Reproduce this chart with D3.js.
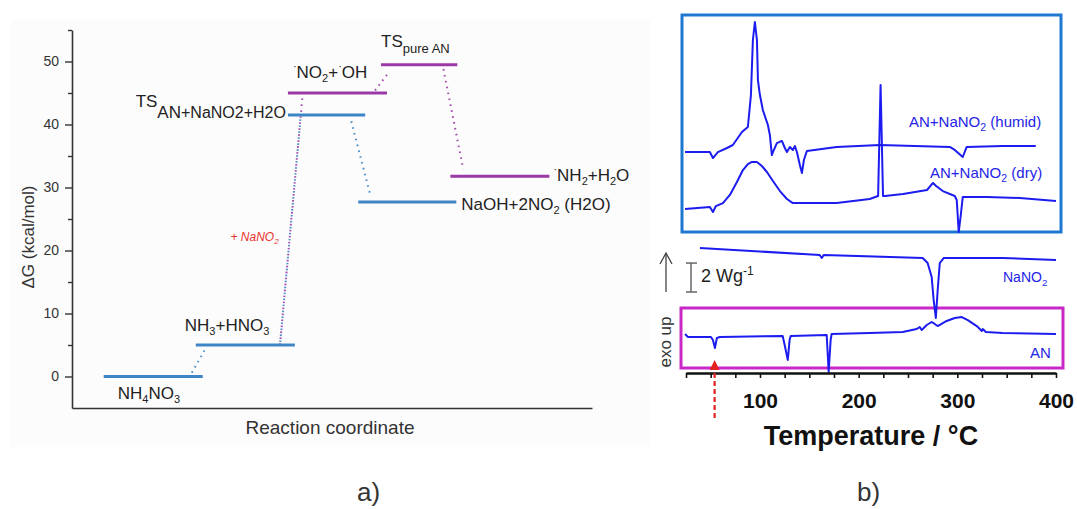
<!DOCTYPE html>
<html><head><meta charset="utf-8">
<script src="https://cdn.jsdelivr.net/npm/d3@7"></script>
<style>
html,body{margin:0;padding:0;background:#fff;}
svg{display:block;font-family:"Liberation Sans",Arial,sans-serif;}
</style></head>
<body><svg id="c" width="1077" height="509"></svg>
<script>
// ---------- Panel a data ----------
const levelNames = ["NH4NO3","NH3+HNO3","TS AN+NaNO2+H2O","NO2+OH","TS pure AN","NH2+H2O","NaOH+2NO2 (H2O)"];
const levelG     = [0, 5, 41.5, 45.0, 49.5, 31.8, 27.7];
const levelStart = [0.32, 1.25, 2.18, 2.18, 3.12, 3.82, 2.89];
const levelEnd   = [1.32, 2.25, 2.96, 3.18, 3.89, 4.82, 3.88];
const levelPath  = ["common","common","nano2","pure","pure","pure","nano2"];
const connX1 = [1.21, 2.10, 2.10, 3.06, 3.75, 2.82];
const connG1 = [0.6, 5.0, 5.0, 45.4, 48.8, 40.5];
const connX2 = [1.34, 2.33, 2.31, 3.20, 3.95, 3.01];
const connG2 = [4.2, 45.0, 41.5, 48.3, 32.9, 28.9];
const connPath = ["common","pure","nano2","pure","pure","nano2"];
const yTicksA = [0, 10, 20, 30, 40, 50];
const yMinorA = [5, 15, 25, 35, 45, 55];

// ---------- Panel b data (T in °C, stacked heat flow in W/g) ----------
const humidT = [24,49.2,52.3,57.3,66.5,72.5,81.7,87.7,90.8,92.8,94.8,96.9,97.9,99.9,102.9,108,110,112,113.1,117.1,122.2,125.2,127.3,130.3,133.3,135.4,137.4,140.4,142.5,144.5,147.5,177.7,221.3,292.3,297.4,305.5,309.5,346,379.5];
const humidV = [14.73,14.73,14.33,14.73,15.0,15.2,16.07,16.4,18.53,22.2,23.4,22.2,19.53,18.53,17.53,16.53,15.87,14.53,14.73,15.33,15.47,15.0,14.73,15.07,14.87,15.13,14.73,13.87,13.33,14.2,14.8,15.07,15.2,15.07,14.87,14.4,15.07,15.13,15.13];
const dryT = [24,49.2,52.3,55.3,62.4,69.5,76.6,82.7,87.7,91.8,96.9,101.9,107,113.1,120.2,127.3,133.3,143.5,177.7,211.2,219.7,222.2,224.7,226.7,245,269.3,273.4,275.4,278.5,285.3,297.4,299.4,301.4,303.5,305.5,329.8,363.3,400];
const dryV = [10.93,11.07,10.73,11.13,11.33,11.87,12.73,13.53,13.93,14.07,14.07,13.8,13.4,12.8,12.13,11.6,11.33,11.33,11.33,11.6,11.8,19.2,11.8,11.8,11.93,12.2,12.53,12.67,12.47,12.13,11.8,11.53,9.4,10.53,11.73,11.73,11.67,11.47];
const nano2T = [39.1,160.5,162.6,164.6,264.9,269.9,274,276,278.2,280.1,282.2,286.3,346,400];
const nano2V = [8.33,7.87,7.67,7.87,7.67,7.33,6.4,4.87,3.67,5.53,7.33,7.67,7.67,7.53];
const anT = [24,27,50.3,52.3,54.3,56.3,59.3,123,125,128.2,130,131.1,167.6,169.6,171.6,172.6,211.2,244.6,258.8,261.9,263.9,269,274,277.1,280.1,289.2,297.4,304.5,310.6,319.7,324.8,325.8,328.9,346,400];
const anV = [2.6,2.4,2.4,2.2,1.67,2.33,2.4,2.47,1.87,0.87,2.2,2.47,2.53,0.07,2.2,2.6,2.67,2.73,2.93,3.07,2.87,3.2,3.4,3.27,3.13,3.47,3.67,3.73,3.53,3.13,2.8,2.93,2.73,2.67,2.6];
const xTicksB = d3.range(25, 401, 25);
const arrowT = 54;

const svg = d3.select("#c");
const blue = "#3d85c6", purple = "#9b3aa6", trace = "#1c1cf0";
const pathColor = {common: blue, nano2: blue, pure: purple};

// ================= Panel a =================
svg.append("rect").attr("x",10).attr("y",20).attr("width",640).attr("height",427).attr("fill","#fcfcfc");
const xA = d3.scaleLinear().domain([0, 5.25]).range([72, 592]);
const yA = d3.scaleLinear().domain([-5, 55]).range([408, 30]);

const gA = svg.append("g");
const yAx = gA.append("g").attr("transform","translate(72,0)")
  .call(d3.axisLeft(yA).tickValues(yTicksA).tickSize(7).tickPadding(6).tickSizeOuter(0));
yAx.select(".domain").attr("stroke","#333").attr("stroke-width",1.6);
yAx.selectAll(".tick line").attr("stroke","#333").attr("stroke-width",1.4);
yAx.selectAll(".tick text").attr("font-size",14).attr("fill","#333").attr("font-family","Liberation Sans, Arial, sans-serif");
const yMin = gA.append("g").attr("transform","translate(72,0)")
  .call(d3.axisLeft(yA).tickValues(yMinorA).tickSize(4).tickFormat("").tickSizeOuter(0));
yMin.select(".domain").remove();
yMin.selectAll(".tick line").attr("stroke","#333").attr("stroke-width",1.4);
const xAx = gA.append("g").attr("transform","translate(0,408)")
  .call(d3.axisBottom(xA).tickValues([]).tickSizeOuter(0));
xAx.select(".domain").attr("stroke","#333").attr("stroke-width",1.6);

gA.append("text").attr("transform","translate(34,237) rotate(-90)").attr("text-anchor","middle")
  .attr("font-size",17).attr("fill","#333").text("ΔG (kcal/mol)");
gA.append("text").attr("x",330).attr("y",434).attr("text-anchor","middle")
  .attr("font-size",19).attr("fill","#333").text("Reaction coordinate");
gA.append("text").attr("x",357).attr("y",501).attr("font-size",26).attr("fill","#333").text("a)");

// connectors (dots of overlapping paths interleaved)
connX1.forEach((x1,i)=>{
  gA.append("line").attr("x1",xA(x1)).attr("y1",yA(connG1[i])).attr("x2",xA(connX2[i])).attr("y2",yA(connG2[i]))
    .attr("stroke",pathColor[connPath[i]]).attr("stroke-width",2).attr("stroke-dasharray","1.6,4.4")
    .attr("stroke-dashoffset", (i===2) ? 3 : 0)
    .attr("stroke-linecap","butt").attr("opacity",0.9);
});
// levels
levelG.forEach((g,i)=>{
  gA.append("line").attr("x1",xA(levelStart[i])).attr("x2",xA(levelEnd[i]))
    .attr("y1",yA(g)).attr("y2",yA(g)).attr("stroke",pathColor[levelPath[i]]).attr("stroke-width",3);
});

// rich text helper
function rich(sel, segs){
  let off = 0;
  segs.forEach(([s,t,size])=>{
    const target = {n:0, sub:4, low:11, sub2:6, dot:-8}[t] || 0;
    const ts = sel.append("tspan").attr("dy", target-off).text(s);
    if(size) ts.attr("font-size", size);
    else if(t==="sub") ts.attr("font-size",11);
    else if(t==="dot") ts.attr("font-size",11);
    off = target;
  });
}
const labelSegs = [
  [["NH","n"],["4","sub"],["NO","n"],["3","sub"]],
  [["NH","n"],["3","sub"],["+HNO","n"],["3","sub"]],
  [["TS","n"],["AN","low",17],["+NaNO2+H2O","low",16]],
  [["·","dot"],["NO","n"],["2","sub"],["+","n"],["·","dot"],["OH","n"]],
  [["TS","n"],["pure AN","sub2",13]],
  [["·","dot"],["NH","n"],["2","sub"],["+H","n"],["2","sub"],["O","n"]],
  [["NaOH+2NO","n"],["2","sub"],[" (H2O)","n"]]
];
// label placement: [anchor ref, dx, dy, text-anchor]
const labelPlace = [
  ["start",14,22,"start"],["start",-11,-14,"start"],["start",-2,-8,"end"],
  ["start",5,-15,"start"],["start",0,-18,"start"],["end",4,5,"start"],["end",5,8,"start"]
];
labelSegs.forEach((segs,i)=>{
  const p = labelPlace[i];
  const bx = p[0]==="start" ? xA(levelStart[i]) : xA(levelEnd[i]);
  const t = gA.append("text").attr("x",bx+p[1]).attr("y",yA(levelG[i])+p[2])
    .attr("text-anchor",p[3]).attr("font-size",17).attr("fill","#222");
  rich(t, segs);
});
// + NaNO2 annotation
const ann = gA.append("text").attr("x",xA(1.6)).attr("y",yA(21.5)).attr("font-size",12)
  .attr("font-style","italic").attr("fill","#e8332f");
ann.append("tspan").text("+ NaNO");
ann.append("tspan").attr("dy",3).attr("font-size",8).text("2");

// ================= Panel b =================
const xB = d3.scaleLinear().domain([25, 400]).range([686, 1056]);
const yB = d3.scaleLinear().domain([0, 24.2]).range([373, 10]);
const gB = svg.append("g");

gB.append("rect").attr("x",682).attr("y",15).attr("width",379).attr("height",217)
  .attr("fill","none").attr("stroke","#1e78d2").attr("stroke-width",3);
gB.append("rect").attr("x",681).attr("y",308).attr("width",382).attr("height",60)
  .attr("fill","none").attr("stroke","#c928c9").attr("stroke-width",3);

const line = d3.line().x(d=>xB(d[0])).y(d=>yB(d[1]));
[[humidT,humidV],[dryT,dryV],[nano2T,nano2V],[anT,anV]].forEach(([T,V])=>{
  gB.append("path").datum(T.map((t,i)=>[t,V[i]])).attr("d",line)
    .attr("fill","none").attr("stroke",trace).attr("stroke-width",2).attr("stroke-linejoin","round");
});

const xBx = gB.append("g").attr("transform","translate(0,373)")
  .call(d3.axisBottom(xB).tickValues(xTicksB).tickSize(5).tickPadding(15).tickSizeOuter(0)
    .tickFormat(d=> d%100===0 ? d : ""));
xBx.select(".domain").attr("stroke","#111").attr("stroke-width",2.5);
xBx.selectAll(".tick line").attr("stroke","#111").attr("stroke-width",1.6);
xBx.selectAll(".tick text").attr("font-size",21).attr("font-weight","bold").attr("fill","#111")
  .attr("font-family","Liberation Sans, Arial, sans-serif");
gB.append("text").attr("x",871).attr("y",445).attr("text-anchor","middle").attr("font-size",27)
  .attr("font-weight","bold").attr("fill","#111").text("Temperature / °C");
gB.append("text").attr("x",857).attr("y",501).attr("font-size",26).attr("fill","#333").text("b)");

// trace labels
function bl(x,y,segs,size){
  const t = gB.append("text").attr("x",x).attr("y",y).attr("font-size",size).attr("fill","#2424e6");
  let off=0;
  segs.forEach(([s,sub])=>{ const tg = sub?4:0; const ts=t.append("tspan").attr("dy",tg-off).text(s); if(sub) ts.attr("font-size",size*0.7); off=tg; });
}
bl(909,127,[["AN+NaNO",0],["2",1],["  (humid)",0]],15);
bl(930,178,[["AN+NaNO",0],["2",1],["  (dry)",0]],15);
bl(1003,282,[["NaNO",0],["2",1]],14);
bl(1030,358,[["AN",0]],15);

// scale bar
const sbX = 691;
gB.append("line").attr("x1",sbX).attr("x2",sbX).attr("y1",yB(7.33)).attr("y2",yB(5.4)).attr("stroke","#666").attr("stroke-width",1.5);
[7.33,5.4].forEach(v=>gB.append("line").attr("x1",sbX-5).attr("x2",sbX+6).attr("y1",yB(v)).attr("y2",yB(v)).attr("stroke","#666").attr("stroke-width",1.5));
const sb = gB.append("text").attr("x",701).attr("y",282).attr("font-size",18).attr("fill","#222");
sb.append("tspan").text("2 Wg");
sb.append("tspan").attr("dy",-7).attr("font-size",12).text("-1");

// exo up
gB.append("line").attr("x1",666).attr("x2",666).attr("y1",292).attr("y2",253).attr("stroke","#444").attr("stroke-width",1.3);
gB.append("path").attr("d","M660,264 L666,253 L672,264").attr("fill","none").attr("stroke","#444").attr("stroke-width",1.3);
gB.append("text").attr("transform","translate(671,342) rotate(-90)").attr("text-anchor","middle")
  .attr("font-size",17).attr("fill","#333").text("exo up");

// red dashed arrow
const ax = xB(arrowT);
gB.append("line").attr("x1",ax).attr("x2",ax).attr("y1",418).attr("y2",368).attr("stroke","#e52222")
  .attr("stroke-width",2.2).attr("stroke-dasharray","5,3");
gB.append("path").attr("d",`M${ax-5},370 L${ax},360 L${ax+5},370 Z`).attr("fill","#e52222");
</script></body></html>
